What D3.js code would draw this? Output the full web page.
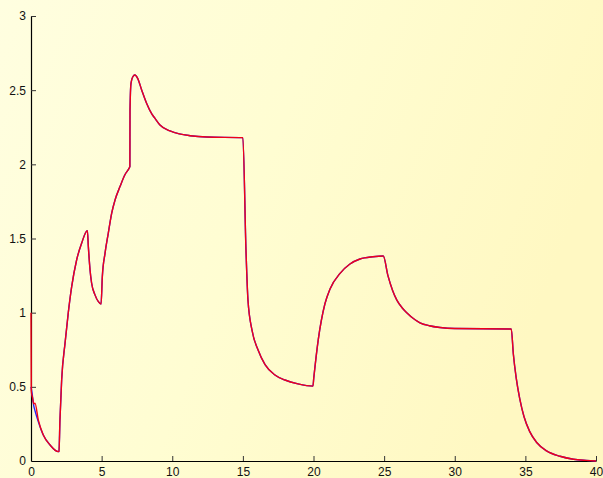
<!DOCTYPE html>
<html><head><meta charset="utf-8">
<script src="https://cdn.jsdelivr.net/npm/d3@7"></script>
<style>html,body{margin:0;padding:0;overflow:hidden;}svg{display:block;}</style>
</head><body>
<svg id="c" width="603" height="478"></svg>
<script>
const times = [0,0.02,0.1,0.2,0.28,0.52,0.87,1.35,1.93,1.98,2.05,2.17,2.41,2.64,2.88,3.23,3.59,3.99,4.06,4.18,4.29,4.53,4.77,4.96,5.05,5.24,5.47,5.71,5.95,6.3,6.65,6.94,7.0,7.01,7.08,7.24,7.36,7.55,7.84,8.19,8.55,8.78,9.13,9.84,10.5,11.26,12.44,15.0,15.22,15.36,15.65,16.07,16.57,17.27,17.98,18.9,19.96,20.02,20.34,20.81,21.17,21.88,22.58,23.29,24.2,24.94,25.27,25.6,25.9,26.3,26.6,27.19,27.54,28.2,28.96,30,34.0,34.15,34.35,34.6,34.9,35.3,35.8,36.5,37.45,38.4,39.3,40];
const redValues = [1.0,0.47,0.43,0.385,0.39,0.276,0.175,0.108,0.063,0.065,0.276,0.546,0.795,1.0,1.175,1.355,1.47,1.553,1.445,1.288,1.2,1.12,1.074,1.058,1.243,1.40,1.535,1.67,1.76,1.85,1.93,1.973,1.985,2.366,2.546,2.595,2.602,2.58,2.50,2.41,2.34,2.31,2.265,2.225,2.205,2.193,2.184,2.18,1.42,1.085,0.88,0.75,0.65,0.58,0.546,0.52,0.505,0.56,0.82,1.06,1.16,1.265,1.328,1.362,1.377,1.382,1.25,1.15,1.085,1.03,1.0,0.952,0.932,0.912,0.9,0.893,0.89,0.72,0.56,0.42,0.3,0.2,0.125,0.068,0.032,0.012,0.004,0];
const blueValues = [0.5,0.49,0.44,0.37,0.34,0.265,0.175,0.108,0.063,0.065,0.276,0.546,0.795,1.0,1.175,1.355,1.47,1.553,1.445,1.288,1.2,1.12,1.074,1.058,1.243,1.40,1.535,1.67,1.76,1.85,1.93,1.973,1.985,2.366,2.546,2.595,2.602,2.58,2.50,2.41,2.34,2.31,2.265,2.225,2.205,2.193,2.184,2.18,1.42,1.085,0.88,0.75,0.65,0.58,0.546,0.52,0.505,0.56,0.82,1.06,1.16,1.265,1.328,1.362,1.377,1.382,1.25,1.15,1.085,1.03,1.0,0.952,0.932,0.912,0.9,0.893,0.89,0.72,0.56,0.42,0.3,0.2,0.125,0.068,0.032,0.012,0.004,0];
const xTicks = [0,5,10,15,20,25,30,35,40];
const yTicks = [0,0.5,1,1.5,2,2.5,3];

const svg = d3.select("#c");
const defs = svg.append("defs");
const g = defs.append("linearGradient").attr("id","bg").attr("x1","0").attr("y1","0").attr("x2","1").attr("y2","0.3");
g.append("stop").attr("offset","0").attr("stop-color","#fffee0");
g.append("stop").attr("offset","0.5").attr("stop-color","#fffdd2");
g.append("stop").attr("offset","1").attr("stop-color","#fff8c2");
svg.append("rect").attr("width",603).attr("height",478).attr("fill","url(#bg)");

const x = d3.scaleLinear().domain([0,40]).range([31,596]);
const y = d3.scaleLinear().domain([0,3]).range([461,16]);

const xAxis = svg.append("g").attr("transform","translate(0,461)")
  .call(d3.axisBottom(x).tickValues(xTicks).tickSizeInner(-5).tickSizeOuter(0).tickPadding(6));
const yAxis = svg.append("g").attr("transform","translate(31,0)")
  .call(d3.axisLeft(y).tickValues(yTicks).tickFormat(d3.format("")).tickSizeInner(-5).tickSizeOuter(0).tickPadding(5));
[xAxis,yAxis].forEach(a=>{
  a.select(".domain").attr("stroke","#000").attr("stroke-width",1.2);
  a.selectAll(".tick line").attr("stroke","#333");
  a.selectAll("text").attr("fill","#111").style("font-family","'Liberation Sans',Arial,sans-serif").style("font-size","12px");
});
xAxis.selectAll(".tick").filter(d=>d===0).select("line").remove();
yAxis.selectAll(".tick").filter(d=>d===0).select("line").remove();

const blueData = times.map((t,i)=>[t,blueValues[i]]);
const redData = times.map((t,i)=>[t,redValues[i]]);
const line = d3.line().x(d=>x(d[0])).y(d=>y(d[1])).curve(d3.curveMonotoneX);
svg.append("path").datum(blueData).attr("d",line).attr("fill","none").attr("stroke","#2020ff").attr("stroke-width",1.4);
svg.append("path").datum(redData).attr("d",line).attr("fill","none").attr("stroke","#f00018").attr("stroke-width",1.4);
</script>
</body></html>
